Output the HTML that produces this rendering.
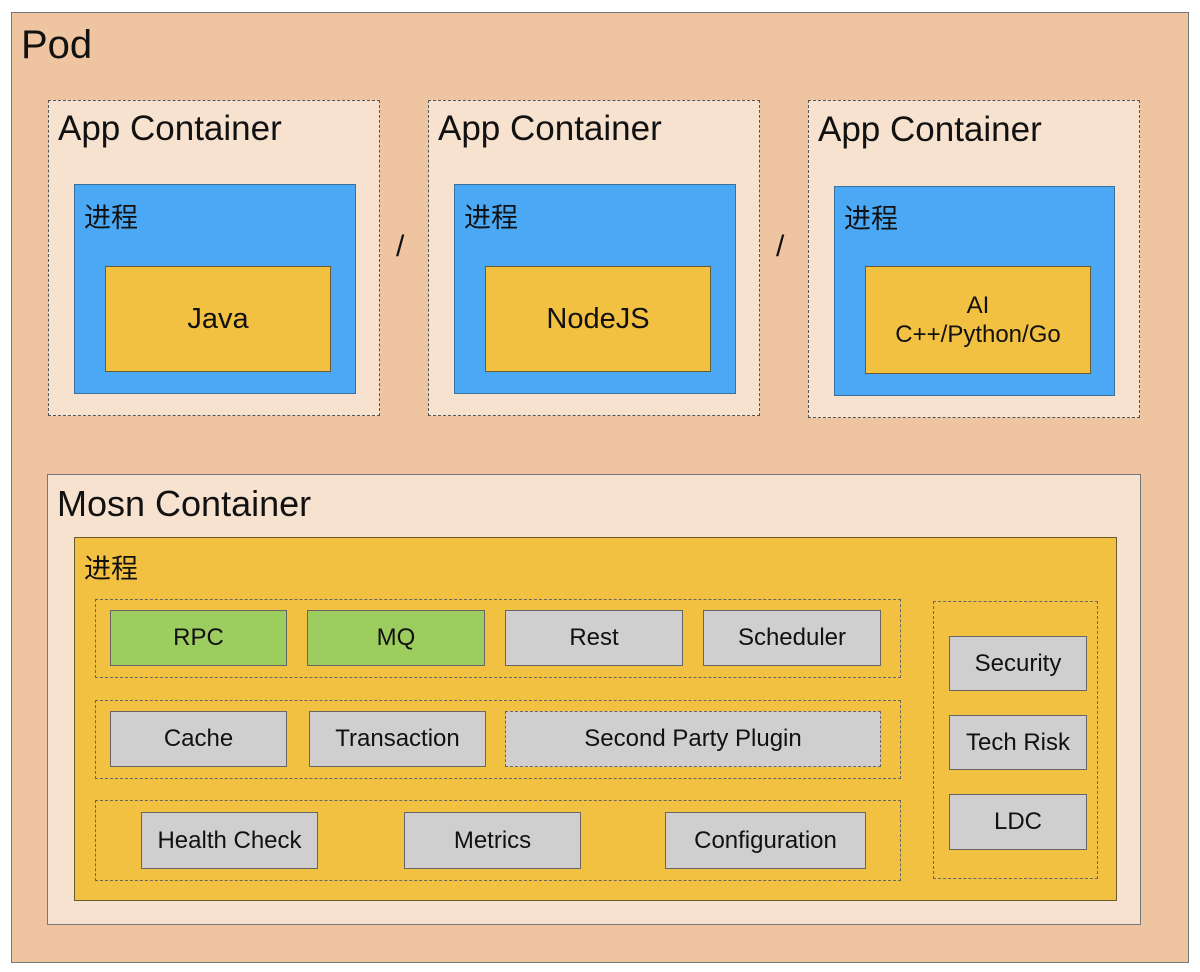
<!DOCTYPE html>
<html><head><meta charset="utf-8"><style>
body{margin:0;width:1200px;height:972px;background:#fff;font-family:"Liberation Sans","Noto Sans CJK SC",sans-serif;color:#111;position:relative;overflow:hidden}
div{position:absolute;box-sizing:border-box}
.t{white-space:nowrap}
.c{display:flex;align-items:center;justify-content:center;text-align:center}
.ac{background:#f7e2d0;border:1px dashed #555}
.bl{background:#4aa8f5;border:1px solid #3a6f9e}
.yl{background:#f3c142;border:1px solid #6a5a30}
.g{background:#cfcfcf;border:1px solid #666;font-size:24px}
.gr{background:#9ecd5f;border:1px solid #666;font-size:24px}
.dg{border:1px dashed #666}
</style></head><body>
<div style="left:11px;top:12px;width:1178px;height:951px;background:#efc4a0;border:1px solid #777"></div>
<div class="t" style="left:21px;top:23px;font-size:40px">Pod</div>

<div class="ac" style="left:48px;top:100px;width:332px;height:316px"></div>
<div class="t" style="left:58px;top:109px;font-size:35px">App Container</div>
<div class="bl" style="left:74px;top:184px;width:282px;height:210px"></div>
<div class="t" style="left:84px;top:196px;font-size:27px">进程</div>
<div class="yl c" style="left:105px;top:266px;width:226px;height:106px;font-size:29px">Java</div>

<div class="t" style="left:396px;top:230px;font-size:30px">/</div>

<div class="ac" style="left:428px;top:100px;width:332px;height:316px"></div>
<div class="t" style="left:438px;top:109px;font-size:35px">App Container</div>
<div class="bl" style="left:454px;top:184px;width:282px;height:210px"></div>
<div class="t" style="left:464px;top:196px;font-size:27px">进程</div>
<div class="yl c" style="left:485px;top:266px;width:226px;height:106px;font-size:29px">NodeJS</div>

<div class="t" style="left:776px;top:230px;font-size:30px">/</div>

<div class="ac" style="left:808px;top:100px;width:332px;height:318px"></div>
<div class="t" style="left:818px;top:110px;font-size:35px">App Container</div>
<div class="bl" style="left:834px;top:186px;width:281px;height:210px"></div>
<div class="t" style="left:844px;top:197px;font-size:27px">进程</div>
<div class="yl c" style="left:865px;top:266px;width:226px;height:108px;font-size:24px;line-height:29px">AI<br>C++/Python/Go</div>

<div style="left:47px;top:474px;width:1094px;height:451px;background:#f7e2d0;border:1px solid #777"></div>
<div class="t" style="left:57px;top:483px;font-size:36px">Mosn Container</div>
<div class="yl" style="left:74px;top:537px;width:1043px;height:364px"></div>
<div class="t" style="left:84px;top:547px;font-size:27px">进程</div>

<div class="dg" style="left:95px;top:599px;width:806px;height:79px"></div>
<div class="dg" style="left:95px;top:700px;width:806px;height:79px"></div>
<div class="dg" style="left:95px;top:800px;width:806px;height:81px"></div>
<div class="dg" style="left:933px;top:601px;width:165px;height:278px"></div>

<div class="gr c" style="left:110px;top:610px;width:177px;height:56px">RPC</div>
<div class="gr c" style="left:307px;top:610px;width:178px;height:56px">MQ</div>
<div class="g c" style="left:505px;top:610px;width:178px;height:56px">Rest</div>
<div class="g c" style="left:703px;top:610px;width:178px;height:56px">Scheduler</div>

<div class="g c" style="left:110px;top:711px;width:177px;height:56px">Cache</div>
<div class="g c" style="left:309px;top:711px;width:177px;height:56px">Transaction</div>
<div class="g c" style="left:505px;top:711px;width:376px;height:56px;border-style:dashed">Second Party Plugin</div>

<div class="g c" style="left:141px;top:812px;width:177px;height:57px">Health Check</div>
<div class="g c" style="left:404px;top:812px;width:177px;height:57px">Metrics</div>
<div class="g c" style="left:665px;top:812px;width:201px;height:57px">Configuration</div>

<div class="g c" style="left:949px;top:636px;width:138px;height:55px">Security</div>
<div class="g c" style="left:949px;top:715px;width:138px;height:55px">Tech Risk</div>
<div class="g c" style="left:949px;top:794px;width:138px;height:56px">LDC</div>
</body></html>
